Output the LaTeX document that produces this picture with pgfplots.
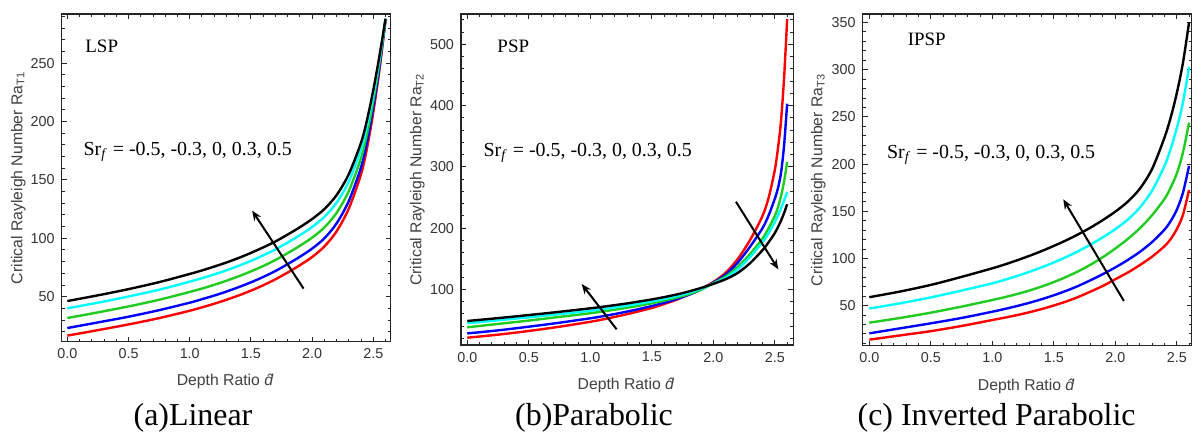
\documentclass[border=0pt]{standalone}
\usepackage{fontspec}
\setmainfont{Liberation Serif}
\setsansfont{Liberation Sans}
\usepackage{pgfplots}
\usepackage{pgfplotstable}
\pgfplotsset{compat=1.18}
\usetikzlibrary{arrows.meta}

\definecolor{cR}{rgb}{1,0,0}
\definecolor{cB}{rgb}{0,0,1}
\definecolor{cG}{rgb}{0.12,0.8,0.12}
\definecolor{cC}{rgb}{0,1,1}
\definecolor{cK}{rgb}{0,0,0}

% columns: x, black, cyan, green, blue, red
\pgfplotstableread{
x     k      c      g      b      r
0     46.3   40.1   31.8   23.2   16.7
0.25  51.2   44.9   36.6   28.0   21.4
0.5   56.5   50.2   41.7   32.9   26.3
0.75  62.5   56.0   47.4   38.5   31.7
1.0   69.5   62.9   54.1   44.9   38.0
1.1   72.5   65.9   57.0   47.9   40.9
1.2   75.8   69.1   60.2   51.0   44.0
1.3   79.3   72.6   63.7   54.4   47.4
1.4   83.2   76.5   67.5   58.2   51.1
1.5   87.5   80.7   71.7   62.3   55.2
1.6   92.2   85.4   76.3   66.9   59.8
1.7   97.3   90.5   81.4   72.0   64.9
1.8   103.2  96.4   87.3   77.9   70.7
1.9   109.5  102.7  93.6   84.2   77.0
2.0   116.5  109.7  100.6  91.2   84.0
2.1   125    118.3  109.3  100.0  93.0
2.2   137    130.5  121.8  112.8  106.0
2.3   155    148.8  140.5  132.0  125.5
2.4   182    176.3  168.8  160.9  155.0
2.45  202    197.0  190.2  183.3  178.0
2.5   227    223.0  217.7  212.2  208.0
2.55  256    253.5  250.1  246.6  244.0
2.6   288    287.8  287.5  287.2  287.0
}\dataA

\pgfplotstableread{
x     k      c      g      b      r
0     48.3   44.5   38     28     21
0.25  53     49.5   43.5   33     26
0.5   58     54.3   49     39     32
0.75  63.3   59.5   55     45.5   39
1.0   69     65     61     52.7   47
1.1   71.5   67.6   63.8   56     50.8
1.2   74.2   70.4   66.8   59.7   55
1.3   77     73.4   70     63.7   59.5
1.4   80.2   76.7   73.5   68     64.5
1.5   83.5   80.3   77.3   72.8   69.5
1.6   87.3   84.3   81.5   78     76
1.7   91.5   88.8   86.3   84     83
1.8   96.5   94.3   92     91     91.5
1.9   102.3  101    99.5   99.5   100.5
2.0   109    109.5  110    111    112
2.1   116.5  118.5  121    124    127
2.2   127    133    137    144    150
2.3   143    153    158    170    181
2.4   164    177    183    200    220
2.45  177    192    200    221    250
2.5   192    210    220    248    295
2.525 201.5  220.5  234    265    330
2.55  212    232    252    290    375
2.575 224.5  245    276    335    445
2.6   239    259    308    403    541
}\dataB

\pgfplotstableread{
x     k      c      g      b      r
0     59     47     32     20.7   14
0.25  65     52.5   37     26     18.5
0.5   72     58.8   42.6   31.3   23
0.75  80.5   66     49     37     28.5
1.0   89.6   73.7   56     43.6   34.8
1.1   93.6   77.4   59     46.5   37.3
1.2   98     81.4   62.3   49.6   40
1.3   102.7  85.8   66     53     43
1.4   107.8  90.6   70.2   56.8   46.4
1.5   113.3  95.8   75     61     50.2
1.6   119.2  101.5  80.4   65.7   54.4
1.7   125.7  107.8  86.5   71     59.3
1.8   132.8  114.8  93.5   77     65
1.9   140.8  122.5  101.5  83.5   71
2.0   149.6  131    110.5  90.5   78
2.1   160    141    120.5  98.3   85
2.2   174    154    132    107    93
2.3   195    172    146    117.5  102
2.4   228    198    163    130.5  113
2.45  249    216    175    139.5  120.5
2.5   275    238    190    151.5  131
2.55  307    265    212    169.5  146
2.6   350    303    244    198    172.6
}\dataC

\pgfplotsset{
  mstyle/.style={
    scale only axis,
    anchor=south west,
    tick align=inside,
    major tick length=2.5bp,
    minor tick length=1.5bp,
    axis line style={black!85, line width=0.6bp},
    every tick/.style={black!85, line width=0.5bp},
    tick label style={font=\sffamily\fontsize{7.2}{8}\selectfont, text=black!80},
    /pgf/number format/assume math mode=true,
    xtick={0,0.5,...,2.5},
    minor xtick={0,0.1,...,2.61},
    x tick label style={/pgf/number format/.cd, fixed, fixed zerofill, precision=1, /tikz/.cd},
    every axis x label/.style={at={(rel axis cs:0.5,-0.122)}, anchor=center,
      font=\sffamily\fontsize{7.9}{9}\selectfont, text=black!75},
    every axis y label/.style={at={(rel axis cs:-0.132,0.5)}, rotate=90, anchor=center,
      font=\sffamily\fontsize{7.9}{9}\selectfont, text=black!75},
    xlabel={Depth Ratio \textit{\^{d}}},
  },
  cv/.style={line width=1.2bp, smooth, tension=0.5, no marks},
}

\begin{document}
\begin{tikzpicture}
\path[use as bounding box] (0,0) rectangle (596bp,-217bp);

% ---------- (a) Linear ----------
\begin{axis}[mstyle,
  at={(30.85bp,-170.85bp)}, width=164.5bp, height=163.85bp,
  xmin=-0.046, xmax=2.642, ymin=11.5, ymax=292,
  ytick={50,100,...,250}, minor ytick={20,30,...,290},
  ylabel={Critical Rayleigh Number Ra\textsubscript{T1}},
]
\addplot[cv, cR] table[x=x,y=r] {\dataA};
\addplot[cv, cB] table[x=x,y=b] {\dataA};
\addplot[cv, cG] table[x=x,y=g] {\dataA};
\addplot[cv, cC] table[x=x,y=c] {\dataA};
\addplot[cv, cK] table[x=x,y=k] {\dataA};
\draw[line width=1bp, -{Stealth[length=5bp,width=4bp]}] (axis cs:1.93,57) -- (axis cs:1.51,123.7);
\node[font=\fontsize{9.5}{11}\selectfont] at (axis cs:0.281,264) {LSP};
\node[anchor=west, font=\fontsize{10}{12}\selectfont, inner sep=0pt] at (axis cs:0.13,174.3) {Sr\textsubscript{\textit{f}} = -0.5, -0.3, 0, 0.3, 0.5};
\end{axis}

% ---------- (b) Parabolic ----------
\begin{axis}[mstyle,
  at={(230.5bp,-172.5bp)}, width=166.15bp, height=165.5bp,
  xmin=-0.051, xmax=2.65, ymin=9.1, ymax=549.5,
  ytick={100,200,...,500}, minor ytick={20,40,...,540},
  every axis y label/.append style={at={(rel axis cs:-0.1315,0.5)}},
  ylabel={Critical Rayleigh Number Ra\textsubscript{T2}},
]
\addplot[cv, cR] table[x=x,y=r] {\dataB};
\addplot[cv, cB] table[x=x,y=b] {\dataB};
\addplot[cv, cG] table[x=x,y=g] {\dataB};
\addplot[cv, cC] table[x=x,y=c] {\dataB};
\addplot[cv, cK] table[x=x,y=k] {\dataB};
\draw[line width=1bp, -{Stealth[length=5bp,width=4bp]}] (axis cs:1.214,34.7) -- (axis cs:0.93,108.7);
\draw[line width=1bp, -{Stealth[length=5bp,width=4bp]}] (axis cs:2.184,243) -- (axis cs:2.528,132.7);
\node[font=\fontsize{9.5}{11}\selectfont] at (axis cs:0.374,496) {PSP};
\node[anchor=west, font=\fontsize{10}{12}\selectfont, inner sep=0pt] at (axis cs:0.13,322) {Sr\textsubscript{\textit{f}} = -0.5, -0.3, 0, 0.3, 0.5};
\end{axis}

% ---------- (c) Inverted Parabolic ----------
\begin{axis}[mstyle,
  at={(431.35bp,-172.85bp)}, width=164.65bp, height=165.85bp,
  xmin=-0.054, xmax=2.624, ymin=7.6, ymax=359,
  ytick={50,100,...,350}, minor ytick={10,20,...,350},
  every axis y label/.append style={at={(rel axis cs:-0.135,0.5)}},
  ylabel={Critical Rayleigh Number Ra\textsubscript{T3}},
]
\addplot[cv, cR] table[x=x,y=r] {\dataC};
\addplot[cv, cB] table[x=x,y=b] {\dataC};
\addplot[cv, cG] table[x=x,y=g] {\dataC};
\addplot[cv, cC] table[x=x,y=c] {\dataC};
\addplot[cv, cK] table[x=x,y=k] {\dataC};
\draw[line width=1bp, -{Stealth[length=5bp,width=4bp]}] (axis cs:2.07,55) -- (axis cs:1.577,162.7);
\node[font=\fontsize{9.5}{11}\selectfont] at (axis cs:0.467,332.4) {IPSP};
\node[anchor=west, font=\fontsize{10}{12}\selectfont, inner sep=0pt] at (axis cs:0.141,209.8) {Sr\textsubscript{\textit{f}} = -0.5, -0.3, 0, 0.3, 0.5};
\end{axis}

% captions
\node[font=\fontsize{16}{19}\selectfont] at (96.5bp,-209bp) {(a)Linear};
\node[font=\fontsize{16}{19}\selectfont] at (297bp,-209bp) {(b)Parabolic};
\node[font=\fontsize{16}{19}\selectfont] at (498.3bp,-209bp) {(c) Inverted Parabolic};
\end{tikzpicture}
\end{document}
